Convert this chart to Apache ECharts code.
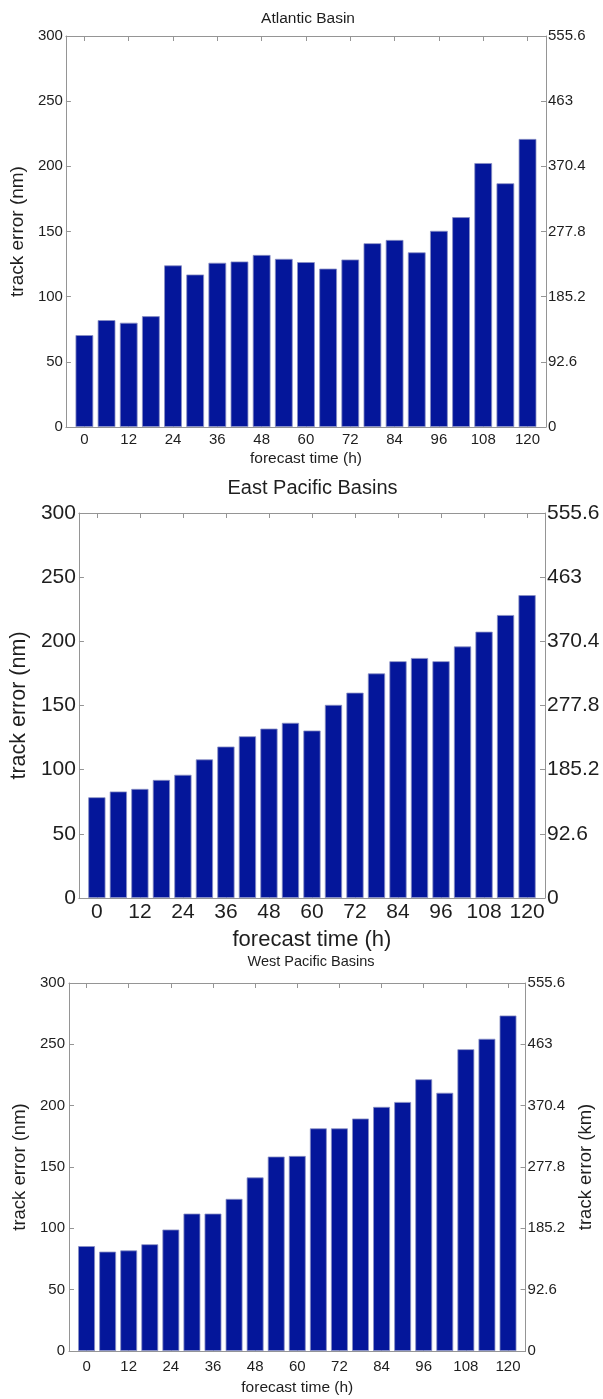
<!DOCTYPE html>
<html>
<head>
<meta charset="utf-8">
<script src="https://cdn.jsdelivr.net/npm/echarts@6/dist/echarts.min.js"></script>
<style>
html,body{margin:0;padding:0;background:#fff;}
#chart{width:603px;height:1399px;}
</style>
</head>
<body>
<div id="chart"></div>
<script>
// ---- data ----
var hours = [0, 6, 12, 18, 24, 30, 36, 42, 48, 54, 60, 66, 72, 78, 84, 90, 96, 102, 108, 114, 120];
var atlantic = [70.5, 82, 80, 85, 124, 117, 126, 127, 132, 129, 126.5, 121.5, 128.5, 141, 143.5, 134, 150.5, 161, 202.5, 187, 221];
var eastPacific = [78.5, 83, 85, 92, 96, 108, 118, 126, 132, 136.5, 130.5, 150.5, 160, 175, 184.5, 187, 184.5, 196, 207.5, 220.5, 236];
var westPacific = [85.5, 81, 82, 87, 99, 112, 112, 124, 141.5, 158.5, 159, 181.5, 181.5, 189.5, 199, 203, 221.5, 210.5, 246, 254.5, 273.5];
var xTickLabels = [0, 12, 24, 36, 48, 60, 72, 84, 96, 108, 120];
var kmTickLabels = [0, 92.6, 185.2, 277.8, 370.4, 463, 555.6];
var titles = ['Atlantic Basin', 'East Pacific Basins', 'West Pacific Basins'];
var xName = 'forecast time (h)';
var yNameLeft = 'track error (nm)';
var yNameRight = 'track error (km)';

// ---- layout / style ----
var FONT = 'Liberation Sans, Arial, Helvetica, sans-serif';
var AXIS_COLOR = '#959595';
var TEXT_COLOR = '#1e1e1e';
var BAR_COLOR = '#04169a';
var panels = [
  {data: atlantic, grid: {left: 60, top: 36, width: 486, height: 391}, tick: 15, title: 15.5, titleTop: 6,
    xName: 15.5, yName: 19, xLabelMargin: 5, yLabelMargin: 3, xNameGap: 24, yNameGap: 28, rightName: false},
  {data: eastPacific, grid: {left: 70, top: 513, width: 475, height: 385}, tick: 21, title: 20, titleTop: 473,
    xName: 22, yName: 21.5, xLabelMargin: 4, yLabelMargin: 3, xNameGap: 31, yNameGap: 41, rightName: false},
  {data: westPacific, grid: {left: 69, top: 983, width: 474, height: 368}, tick: 15, title: 14.5, titleTop: 949,
    xName: 15.5, yName: 18.5, xLabelMargin: 8, yLabelMargin: 4, xNameGap: 29, yNameGap: 32, rightName: true, rightNameGap: 42}
];

var option = {
  animation: false,
  backgroundColor: '#fff',
  textStyle: {fontFamily: FONT},
  title: [], grid: [], xAxis: [], yAxis: [], series: []
};

panels.forEach(function (p, i) {
  var lineStyle = {color: AXIS_COLOR, width: 1};
  option.title.push({
    text: titles[i], left: p.grid.left + p.grid.width / 2, top: p.titleTop, textAlign: 'center',
    textStyle: {fontSize: p.title, fontWeight: 'normal', color: TEXT_COLOR, fontFamily: FONT}
  });
  option.grid.push({left: p.grid.left, top: p.grid.top, width: p.grid.width, height: p.grid.height, containLabel: false});
  // bottom x axis
  option.xAxis.push({
    gridIndex: i, type: 'value', min: -5, max: 125, position: 'bottom',
    name: xName, nameLocation: 'middle', nameGap: p.xNameGap,
    nameTextStyle: {fontSize: p.xName, color: TEXT_COLOR, fontFamily: FONT},
    axisLine: {show: true, onZero: false, lineStyle: lineStyle},
    axisTick: {show: true, inside: true, length: 5, customValues: xTickLabels, lineStyle: lineStyle},
    axisLabel: {show: true, customValues: xTickLabels, fontSize: p.tick, color: TEXT_COLOR, margin: p.xLabelMargin, fontFamily: FONT, hideOverlap: false},
    splitLine: {show: false}
  });
  // top x axis (box)
  option.xAxis.push({
    gridIndex: i, type: 'value', min: -5, max: 125, position: 'top',
    axisLine: {show: true, onZero: false, lineStyle: lineStyle},
    axisTick: {show: true, inside: true, length: 5, customValues: xTickLabels, lineStyle: lineStyle},
    axisLabel: {show: false},
    splitLine: {show: false}
  });
  // left y axis (nm)
  option.yAxis.push({
    gridIndex: i, type: 'value', min: 0, max: 300, interval: 50, position: 'left',
    name: yNameLeft, nameLocation: 'middle', nameGap: p.yNameGap, nameRotate: 90,
    nameTextStyle: {fontSize: p.yName, color: TEXT_COLOR, fontFamily: FONT},
    axisLine: {show: true, onZero: false, lineStyle: lineStyle},
    axisTick: {show: true, inside: true, length: 5, lineStyle: lineStyle},
    axisLabel: {fontSize: p.tick, color: TEXT_COLOR, margin: p.yLabelMargin, fontFamily: FONT},
    splitLine: {show: false}
  });
  // right y axis (km)
  option.yAxis.push({
    gridIndex: i, type: 'value', min: 0, max: 555.6, position: 'right',
    name: p.rightName ? yNameRight : '', nameLocation: 'middle', nameGap: p.rightNameGap || 40, nameRotate: 90,
    nameTextStyle: {fontSize: p.yName, color: TEXT_COLOR, fontFamily: FONT},
    axisLine: {show: true, onZero: false, lineStyle: lineStyle},
    axisTick: {show: true, inside: true, length: 5, customValues: kmTickLabels, lineStyle: lineStyle},
    axisLabel: {customValues: kmTickLabels, fontSize: p.tick, color: TEXT_COLOR, margin: 2, fontFamily: FONT,
      formatter: function (v) { return String(Math.round(v * 10) / 10); }},
    splitLine: {show: false}
  });
  option.series.push({
    type: 'bar', xAxisIndex: i * 2, yAxisIndex: i * 2,
    barWidth: '80%',
    itemStyle: {color: BAR_COLOR, borderColor: '#8a90c4', borderWidth: 0.8},
    data: hours.map(function (h, k) { return [h, p.data[k]]; })
  });
});

var chart = echarts.init(document.getElementById('chart'), null, {renderer: 'canvas'});
chart.setOption(option);
</script>
</body>
</html>
